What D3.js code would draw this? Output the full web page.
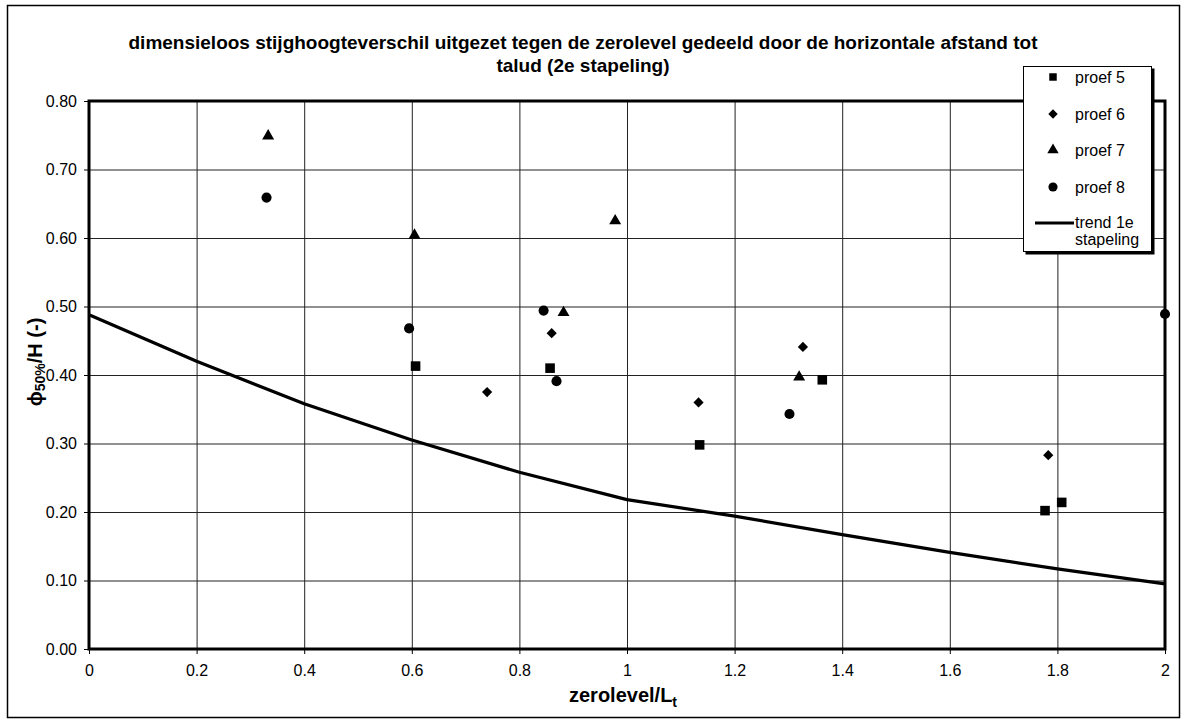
<!DOCTYPE html>
<html>
<head>
<meta charset="utf-8">
<script src="https://cdn.jsdelivr.net/npm/d3@7/dist/d3.min.js"></script>
<style>
  html, body { margin: 0; padding: 0; background: #fff; }
  svg { display: block; font-family: "Liberation Sans", Arial, sans-serif; }
</style>
</head>
<body>
<svg id="chart" width="1184" height="720"></svg>
<script>
// Measured series: zerolevel/Lt against phi50%/H
const proef5 = [[0.607, 0.413], [0.857, 0.410], [1.135, 0.298], [1.363, 0.393], [1.777, 0.202], [1.808, 0.214]];
const proef6 = [[0.740, 0.375], [0.860, 0.461], [1.133, 0.360], [1.327, 0.441], [1.783, 0.283]];
const proef7 = [[0.333, 0.749], [0.605, 0.604], [0.882, 0.491], [0.978, 0.625], [1.320, 0.397]];
const proef8 = [[0.330, 0.659], [0.595, 0.468], [0.845, 0.494], [0.869, 0.391], [1.302, 0.343], [2.000, 0.489]];
// Trend of the first stacking
const trend1e = [[0, 0.488], [0.2, 0.420], [0.4, 0.358], [0.6, 0.305], [0.8, 0.258], [1.0, 0.218],
                 [1.2, 0.194], [1.4, 0.167], [1.6, 0.141], [1.8, 0.117], [2.0, 0.095]];

const xTicks = [0, 0.2, 0.4, 0.6, 0.8, 1, 1.2, 1.4, 1.6, 1.8, 2];
const yTicks = [0, 0.1, 0.2, 0.3, 0.4, 0.5, 0.6, 0.7, 0.8];
const titleLines = ["dimensieloos stijghoogteverschil uitgezet tegen de zerolevel gedeeld door de horizontale afstand tot",
                    "talud (2e stapeling)"];
const legendNames = ["proef 5", "proef 6", "proef 7", "proef 8"];

const FONT = "Liberation Sans, Arial, sans-serif";
const svg = d3.select("#chart");
const m = { left: 89, right: 1165, top: 101, bottom: 649 };

const x = d3.scaleLinear().domain([0, 2]).range([m.left, m.right]);
const y = d3.scaleLinear().domain([0, 0.8]).range([m.bottom, m.top]);

// outer frame
svg.append("rect").attr("x", 7.5).attr("y", 5.5).attr("width", 1172).attr("height", 712)
  .attr("fill", "none").attr("stroke", "#000").attr("stroke-width", 1.5);

// title
svg.append("g").selectAll("text").data(titleLines).join("text")
  .attr("x", 583).attr("y", (d, i) => 49 + i * 23)
  .attr("text-anchor", "middle").attr("font-size", 19).attr("font-weight", "bold")
  .text(d => d);

// gridlines
svg.append("g").attr("transform", `translate(0,${m.bottom})`)
  .call(d3.axisBottom(x).tickValues(xTicks).tickSize(-(m.bottom - m.top)).tickFormat(""))
  .call(g => g.select(".domain").remove())
  .call(g => g.selectAll("line").attr("stroke", "#222").attr("stroke-width", 1));
svg.append("g").attr("transform", `translate(${m.left},0)`)
  .call(d3.axisLeft(y).tickValues(yTicks).tickSize(-(m.right - m.left)).tickFormat(""))
  .call(g => g.select(".domain").remove())
  .call(g => g.selectAll("line").attr("stroke", "#222").attr("stroke-width", 1));

// axes with outside ticks
const xAxis = svg.append("g").attr("transform", `translate(0,${m.bottom})`)
  .call(d3.axisBottom(x).tickValues(xTicks).tickSize(5).tickPadding(11)
    .tickFormat(d => d3.format("")(d)));
xAxis.select(".domain").remove();
xAxis.selectAll("text").attr("font-size", 16).attr("fill", "#000").attr("font-family", FONT);
xAxis.selectAll("line").attr("stroke", "#000");

const yAxis = svg.append("g").attr("transform", `translate(${m.left},0)`)
  .call(d3.axisLeft(y).tickValues(yTicks).tickSize(5).tickPadding(7).tickFormat(d3.format(".2f")));
yAxis.select(".domain").remove();
yAxis.selectAll("text").attr("font-size", 16).attr("fill", "#000").attr("font-family", FONT);
yAxis.selectAll("line").attr("stroke", "#000");

// plot frame
svg.append("rect").attr("x", m.left).attr("y", m.top)
  .attr("width", m.right - m.left).attr("height", m.bottom - m.top)
  .attr("fill", "none").attr("stroke", "#000").attr("stroke-width", 3);

// trend line
svg.append("path").datum(trend1e)
  .attr("d", d3.line().x(d => x(d[0])).y(d => y(d[1])))
  .attr("fill", "none").attr("stroke", "#000").attr("stroke-width", 3.2).attr("stroke-linejoin", "round");

// markers: square, diamond (square turned 45 degrees), triangle, circle
const shapes = [
  { gen: d3.symbol().type(d3.symbolSquare).size(92), rot: 0 },
  { gen: d3.symbol().type(d3.symbolSquare).size(52), rot: 45 },
  { gen: d3.symbol().type(d3.symbolTriangle).size(62), rot: 0 },
  { gen: d3.symbol().type(d3.symbolCircle).size(80), rot: 0 }
];
const series = [proef5, proef6, proef7, proef8];
series.forEach((s, i) => {
  svg.append("g").selectAll("path").data(s).join("path")
    .attr("transform", d => `translate(${x(d[0])},${y(d[1])}) rotate(${shapes[i].rot})`)
    .attr("d", shapes[i].gen).attr("fill", "#000");
});

// legend
const legendShapes = [
  { gen: d3.symbol().type(d3.symbolSquare).size(56), rot: 0 },
  { gen: d3.symbol().type(d3.symbolSquare).size(44), rot: 45 },
  { gen: d3.symbol().type(d3.symbolTriangle).size(56), rot: 0 },
  { gen: d3.symbol().type(d3.symbolCircle).size(66), rot: 0 }
];
const lg = svg.append("g");
lg.append("rect").attr("x", 1025.5).attr("y", 68.5).attr("width", 129).attr("height", 186).attr("fill", "#000");
lg.append("rect").attr("x", 1023.5).attr("y", 66.5).attr("width", 128).attr("height", 185)
  .attr("fill", "#fff").attr("stroke", "#000").attr("stroke-width", 1);
const rowY = [77, 114, 150, 187];
legendNames.forEach((name, i) => {
  lg.append("path").attr("transform", `translate(1053,${rowY[i]}) rotate(${legendShapes[i].rot})`)
    .attr("d", legendShapes[i].gen).attr("fill", "#000");
  lg.append("text").attr("x", 1075).attr("y", rowY[i] + 6).attr("font-size", 16).text(name);
});
lg.append("line").attr("x1", 1035).attr("x2", 1074).attr("y1", 223).attr("y2", 223)
  .attr("stroke", "#000").attr("stroke-width", 3.2);
lg.append("text").attr("x", 1075).attr("y", 228).attr("font-size", 16).text("trend 1e");
lg.append("text").attr("x", 1075).attr("y", 245).attr("font-size", 16).text("stapeling");

// x axis title
const xt = svg.append("text").attr("x", 623).attr("y", 702).attr("text-anchor", "middle")
  .attr("font-size", 20).attr("font-weight", "bold");
xt.append("tspan").text("zerolevel/L");
xt.append("tspan").attr("dy", 5).attr("font-size", 14).text("t");

// y axis title
const yt = svg.append("text").attr("transform", "translate(42,362) rotate(-90)")
  .attr("text-anchor", "middle").attr("font-size", 20).attr("font-weight", "bold");
yt.append("tspan").text("\u03D5");
yt.append("tspan").attr("dy", 3).attr("font-size", 14).text("50%");
yt.append("tspan").attr("dy", -3).text("/H (-)");
</script>
</body>
</html>
